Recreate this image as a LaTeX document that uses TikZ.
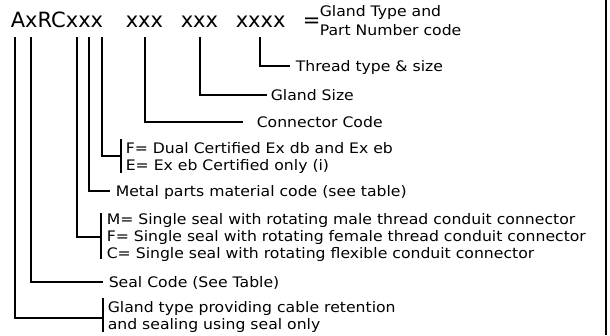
\documentclass[tikz,border=0pt]{standalone}
\usepackage{fontspec}
\setmainfont{DejaVu Sans}
\newfontfamily\lblfont[FakeStretch=1.08]{DejaVu Sans}
\begin{document}
\begin{tikzpicture}[x=1pt,y=-1pt,line width=1.6pt,
  hdr/.style={anchor=base west,inner sep=0pt,font=\fontsize{21}{25}\selectfont},
  lbl/.style={anchor=west,inner sep=0pt,text height=10.6pt,text depth=0pt,font=\lblfont\fontsize{14.5}{17}\selectfont},
  conn/.style={line width=1.6pt}]
\useasboundingbox (0,0) rectangle (610,335);
% header
\node[hdr] (h1) at (10,27) {AxRCxxx};
\node[hdr] (h2) at (125,27) {xxx};
\node[hdr] (h3) at (180,27) {xxx};
\node[hdr] (h4) at (235,27) {xxxx};
\node[hdr] (heq) at (302,27) {=};
\node[lbl] (gt1) at (319,11) {Gland Type and};
\node[lbl] (gt2) at (319,30) {Part Number code};
% tops of the leader lines
\coordinate (tA) at (15,37);
\coordinate (tS) at (31,37);
\coordinate (tM) at (77,37);
\coordinate (tMat) at (89,37);
\coordinate (tCert) at (102,37);
\coordinate (tConn) at (145,37);
\coordinate (tSize) at (200,37);
\coordinate (tThr) at (260,37);
% labels
\node[lbl] (thr) at (295,66) {Thread type \& size};
\node[lbl] (size) at (270,95) {Gland Size};
\node[lbl] (cn) at (256,122) {Connector Code};
\node[lbl] (c1) at (125,148) {F= Dual Certified Ex db and Ex eb};
\node[lbl] (c2) at (125,165.5) {E= Ex eb Certified only (i)};
\node[lbl] (metal) at (115,191) {Metal parts material code (see table)};
\node[lbl] (m1) at (106,219) {M= Single seal with rotating male thread conduit connector};
\node[lbl] (m2) at (106,236) {F= Single seal with rotating female thread conduit connector};
\node[lbl] (m3) at (106,253) {C= Single seal with rotating flexible conduit connector};
\node[lbl] (seal) at (108,282) {Seal Code (See Table)};
\node[lbl] (g1) at (107,307.5) {Gland type providing cable retention};
\node[lbl] (g2) at (107,324.5) {and sealing using seal only};
% brackets
\coordinate (bc1) at (121,139); \coordinate (bc2) at (121,173); \coordinate (bcm) at (121,156);
\coordinate (bm1) at (101,213); \coordinate (bm2) at (101,259); \coordinate (bmm) at (101,237);
\coordinate (bg1) at (103,298); \coordinate (bg2) at (103,332); \coordinate (bgm) at (103,318);
\draw[conn] (bc1) -- (bc2);
\draw[conn] (bm1) -- (bm2);
\draw[conn] (bg1) -- (bg2);
% leaders
\draw[conn] (tThr) |- ([xshift=-5pt]thr.west);
\draw[conn] (tSize) |- ([xshift=-3pt]size.west);
\draw[conn] (tConn) |- ([xshift=-13pt]cn.west);
\draw[conn] (tCert) |- (bcm);
\draw[conn] (tMat) |- ([xshift=-5pt]metal.west);
\draw[conn] (tM) |- (bmm);
\draw[conn] (tS) |- ([xshift=-5pt]seal.west);
\draw[conn] (tA) |- (bgm);
% right border
\draw[line width=2pt] (606,0) -- (606,335);
\end{tikzpicture}
\end{document}
